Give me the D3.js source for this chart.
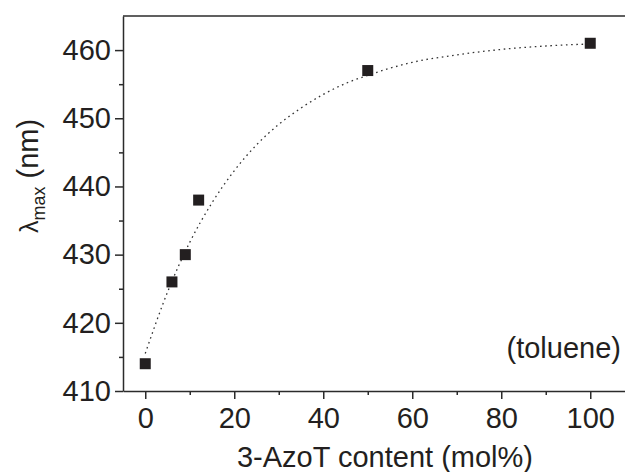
<!DOCTYPE html>
<html>
<head>
<meta charset="utf-8">
<script src="https://cdn.jsdelivr.net/npm/d3@7"></script>
<style>
  body { margin: 0; background: #fff; }
  svg { display: block; font-family: "Liberation Sans", Arial, sans-serif; }
  .axis path, .axis line { stroke: #2b2b2b; stroke-width: 1.5; }
  .axis text { fill: #231f20; font-size: 29px; }
</style>
</head>
<body>
<div id="chart"></div>
<script>
// measured points (mol% vs lambda max)
const content = [0, 6, 9, 12, 50, 100];
const lambdaMax = [414, 426, 430, 438, 457, 461];

// dotted fit curve
const fitX = [0, 5, 10, 15, 20, 25, 30, 35, 40, 45, 50, 60, 70, 80, 90, 100];
const fitY = [415.5, 424.5, 431.8, 437.6, 442.3, 446.1, 449.1, 451.5, 453.5, 455.1, 456.3, 458.2, 459.3, 460.1, 460.6, 460.9];

const xMajor = [0, 20, 40, 60, 80, 100];
const xMinor = [10, 30, 50, 70, 90];
const yMajor = [410, 420, 430, 440, 450, 460];
const yMinor = [415, 425, 435, 445, 455];

const W = 625, H = 472;
const margin = { top: 16, right: 0, bottom: 81, left: 123 };

const svg = d3.select("#chart").append("svg")
  .attr("width", W)
  .attr("height", H);

const x = d3.scaleLinear().domain([-5, 108]).range([margin.left, margin.left + 113 * 4.45]);
const y = d3.scaleLinear().domain([410, 465]).range([H - margin.bottom, margin.top]);

// frame: top line (right side is cut off in the original)
svg.append("line")
  .attr("x1", x(-5)).attr("x2", W)
  .attr("y1", y(465)).attr("y2", y(465))
  .attr("stroke", "#2b2b2b").attr("stroke-width", 1.5);

// x axis
const gx = svg.append("g")
  .attr("class", "axis")
  .attr("transform", `translate(0, ${y(410)})`)
  .call(d3.axisBottom(x).tickValues(xMajor).tickSize(8).tickSizeOuter(0).tickPadding(8));
svg.append("g")
  .attr("class", "axis")
  .attr("transform", `translate(0, ${y(410)})`)
  .call(d3.axisBottom(x).tickValues(xMinor).tickSize(4).tickFormat(""))
  .select("path.domain").remove();

// y axis
svg.append("g")
  .attr("class", "axis")
  .attr("transform", `translate(${x(-5)}, 0)`)
  .call(d3.axisLeft(y).tickValues(yMajor).tickSize(8).tickSizeOuter(0).tickPadding(4));
svg.append("g")
  .attr("class", "axis")
  .attr("transform", `translate(${x(-5)}, 0)`)
  .call(d3.axisLeft(y).tickValues(yMinor).tickSize(4).tickFormat(""))
  .select("path.domain").remove();

// fit curve
svg.append("path")
  .datum(fitX.map((d, i) => [d, fitY[i]]))
  .attr("fill", "none")
  .attr("stroke", "#333")
  .attr("stroke-width", 1.3)
  .attr("stroke-dasharray", "1.6 3.6")
  .attr("d", d3.line()
    .x(d => x(d[0]))
    .y(d => y(d[1]))
    .curve(d3.curveMonotoneX));

// squares
const s = 11;
svg.selectAll("rect.pt")
  .data(content.map((d, i) => [d, lambdaMax[i]]))
  .join("rect")
  .attr("class", "pt")
  .attr("x", d => x(d[0]) - s / 2)
  .attr("y", d => y(d[1]) - s / 2)
  .attr("width", s)
  .attr("height", s)
  .attr("fill", "#231f20");

// labels
svg.append("text")
  .attr("x", 385)
  .attr("y", 467)
  .attr("text-anchor", "middle")
  .attr("font-size", 29)
  .attr("fill", "#231f20")
  .text("3-AzoT content (mol%)");

const yl = svg.append("text")
  .attr("transform", "translate(38, 176) rotate(-90)")
  .attr("text-anchor", "middle")
  .attr("font-size", 29)
  .attr("fill", "#231f20");
yl.append("tspan").attr("font-size", 25).text("λ");
yl.append("tspan").attr("font-size", 18).attr("dy", 7).text("max");
yl.append("tspan").attr("dy", -7).text(" (nm)");

svg.append("text")
  .attr("x", 621)
  .attr("y", 358)
  .attr("text-anchor", "end")
  .attr("font-size", 29)
  .attr("fill", "#231f20")
  .text("(toluene)");
</script>
</body>
</html>
